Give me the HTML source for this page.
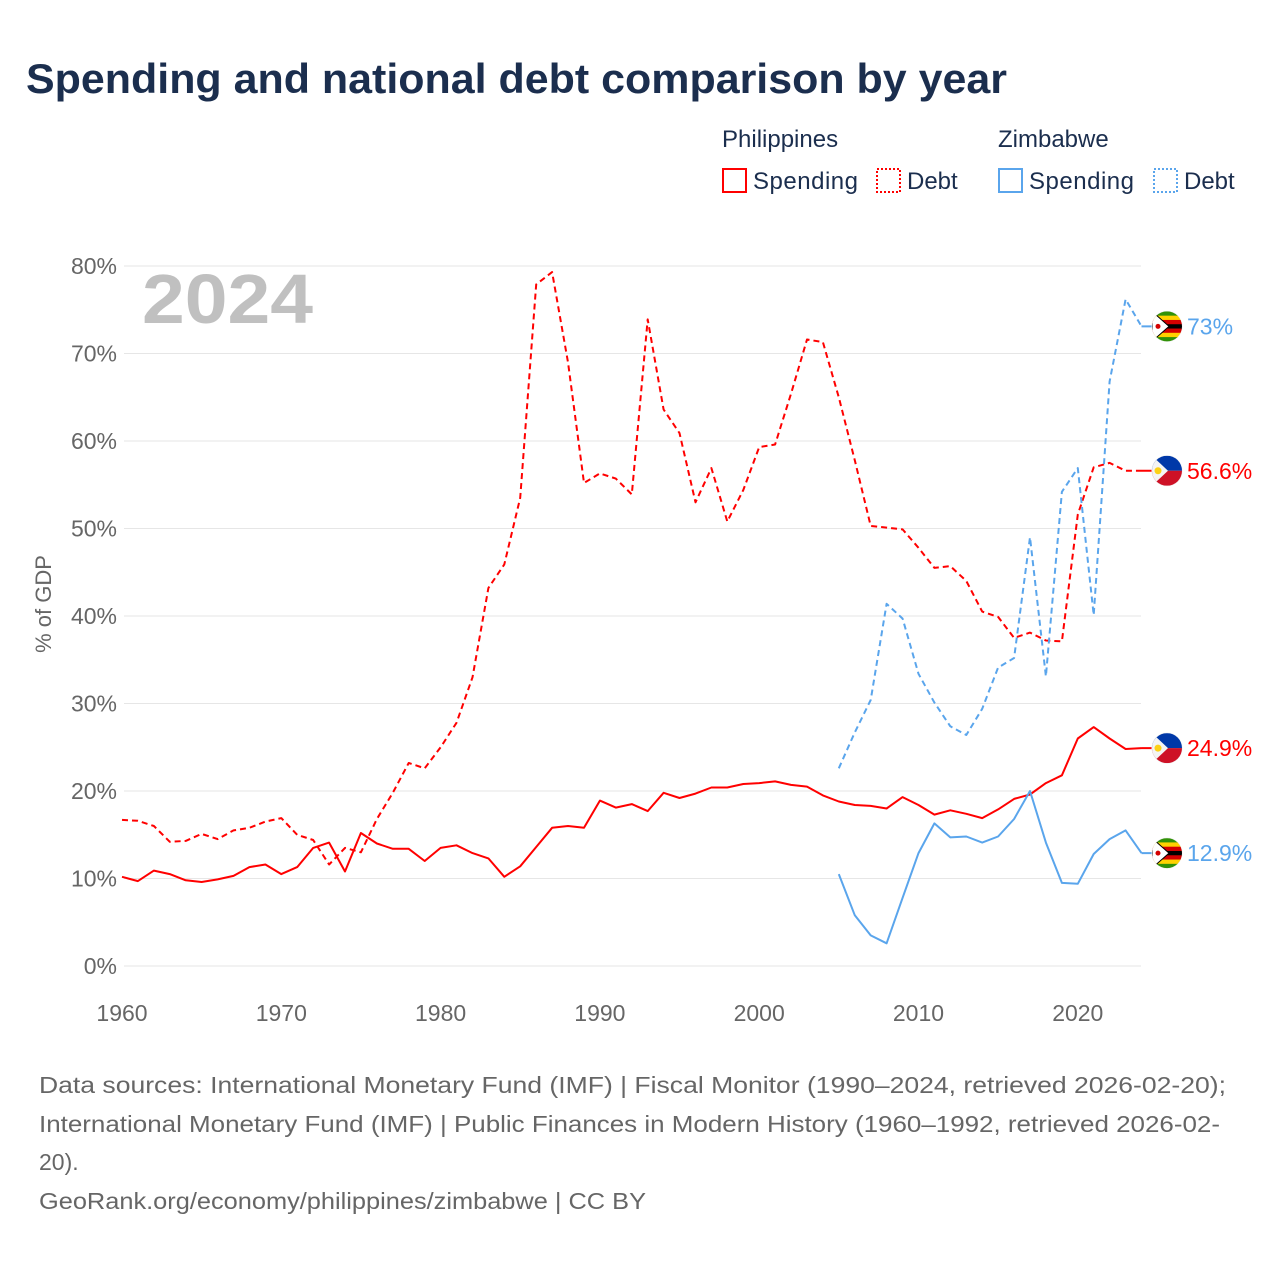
<!DOCTYPE html>
<html><head><meta charset="utf-8"><style>
body{margin:0;background:#fff;font-family:"Liberation Sans",sans-serif}
svg text{font-family:"Liberation Sans",sans-serif}
</style></head><body>
<svg width="1280" height="1280" viewBox="0 0 1280 1280">
<text x="26" y="93" font-size="42" font-weight="bold" fill="#1b2e4e" textLength="981" lengthAdjust="spacingAndGlyphs">Spending and national debt comparison by year</text>
<g font-size="24" fill="#1b2e4e">
<text x="722" y="147">Philippines</text>
<text x="998" y="147">Zimbabwe</text>
<rect x="723" y="169" width="23" height="23" fill="none" stroke="#f00" stroke-width="2"/>
<text x="753" y="189" textLength="105">Spending</text>
<rect x="877" y="169" width="23" height="23" fill="none" stroke="#f00" stroke-width="2" stroke-dasharray="2 2"/>
<text x="907" y="189">Debt</text>
<rect x="999" y="169" width="23" height="23" fill="none" stroke="#5aa5ec" stroke-width="2"/>
<text x="1029" y="189" textLength="105">Spending</text>
<rect x="1154" y="169" width="23" height="23" fill="none" stroke="#5aa5ec" stroke-width="2" stroke-dasharray="2 2"/>
<text x="1184" y="189">Debt</text>
</g>
<g id="grid"></g>
<text x="142" y="323" font-size="70" font-weight="bold" fill="#c0c0c0" textLength="171" lengthAdjust="spacingAndGlyphs">2024</text>
<text transform="translate(51,604) rotate(-90)" text-anchor="middle" font-size="22" fill="#666">% of GDP</text>
<g id="series"></g>
<g id="ends"></g>
<g font-size="23" fill="#666">
<text x="39" y="1093" textLength="1187" lengthAdjust="spacingAndGlyphs">Data sources: International Monetary Fund (IMF) | Fiscal Monitor (1990–2024, retrieved 2026-02-20);</text>
<text x="39" y="1132" textLength="1181" lengthAdjust="spacingAndGlyphs">International Monetary Fund (IMF) | Public Finances in Modern History (1960–1992, retrieved 2026-02-</text>
<text x="39" y="1170">20).</text>
<text x="39" y="1209" textLength="607" lengthAdjust="spacingAndGlyphs">GeoRank.org/economy/philippines/zimbabwe | CC BY</text>
</g>
</svg>
<script>
const yTicks=[0,10,20,30,40,50,60,70,80];
const xTicks=[1960,1970,1980,1990,2000,2010,2020];
const phYears=[];for(let y=1960;y<=2024;y++)phYears.push(y);
const zwYears=[];for(let y=2005;y<=2024;y++)zwYears.push(y);
const phSpending=[10.2,9.7,10.9,10.5,9.8,9.6,9.9,10.3,11.3,11.6,10.5,11.3,13.5,14.1,10.8,15.2,14.0,13.4,13.4,12.0,13.5,13.8,12.9,12.3,10.2,11.4,13.6,15.8,16.0,15.8,18.9,18.1,18.5,17.7,19.8,19.2,19.7,20.4,20.4,20.8,20.9,21.1,20.7,20.5,19.5,18.8,18.4,18.3,18.0,19.3,18.4,17.3,17.8,17.4,16.9,17.9,19.1,19.6,20.9,21.8,26.0,27.3,26.0,24.8,24.9];
const phDebt=[16.7,16.6,16.0,14.2,14.3,15.1,14.5,15.5,15.8,16.5,16.9,15.0,14.4,11.6,13.5,13.0,16.8,19.8,23.2,22.6,25.0,27.8,33.0,43.2,45.9,53.5,77.9,79.3,69.0,55.2,56.3,55.7,53.9,73.9,63.6,60.9,53.0,56.9,50.8,54.4,59.3,59.6,65.4,71.6,71.3,65.0,57.8,50.3,50.1,49.9,47.8,45.5,45.7,44.0,40.5,39.9,37.5,38.1,37.2,37.1,51.6,57.0,57.5,56.6,56.6];
const zwSpending=[10.5,5.8,3.5,2.6,7.8,12.9,16.3,14.7,14.8,14.1,14.8,16.8,20.0,14.1,9.5,9.4,12.8,14.5,15.5,12.9];
const zwDebt=[22.6,26.7,30.4,41.4,39.7,33.4,30.1,27.4,26.4,29.4,34.1,35.2,49.0,33.1,54.2,56.9,40.1,66.8,76.2,73.1];
const endLabels=["56.6%","24.9%","73%","12.9%"];

const NS="http://www.w3.org/2000/svg";
const X=y=>122+(y-1960)*(1141.5-122)/64;
const Y=v=>966-v*8.75;
function mk(tag,attrs,parent){const e=document.createElementNS(NS,tag);for(const k in attrs)e.setAttribute(k,attrs[k]);parent.appendChild(e);return e;}
const grid=document.getElementById('grid');
yTicks.forEach(t=>{
  const l=mk('line',{x1:124,x2:1141,y1:Y(t),y2:Y(t),stroke:'#e6e6e6','stroke-width':1},grid);
  
  
  const tx=mk('text',{x:117,y:Y(t)+8,'text-anchor':'end','font-size':23,fill:'#666'},grid);
  tx.textContent=t+'%';
  
  
});
xTicks.forEach(t=>{
  const tx=mk('text',{x:X(t),y:1021,'text-anchor':'middle','font-size':23,fill:'#666'},grid);
  tx.textContent=t;
  
  
});
const S=document.getElementById('series');
function line(years,vals,color,dash,name){
  const d=vals.map((v,i)=>(i?'L':'M')+X(years[i]).toFixed(1)+' '+Y(v).toFixed(1)).join(' ');
  const p=mk('path',{d:d,fill:'none',stroke:color,'stroke-width':2,'stroke-linejoin':'round'},S);
  if(dash)p.setAttribute('stroke-dasharray',dash);
  
  
}
const RED='#ff0000',BLUE='#5aa5ec';
line(phYears,phDebt,RED,'6 4','ph-debt-line');
line(zwYears,zwDebt,BLUE,'6 4','zw-debt-line');
line(phYears,phSpending,RED,null,'ph-spending-line');
line(zwYears,zwSpending,BLUE,null,'zw-spending-line');
const E=document.getElementById('ends');
let cid=0;
function clipG(cx,cy,g){
  const id='fc'+(cid++);
  const cp=mk('clipPath',{id:id},g);
  mk('circle',{cx:cx,cy:cy,r:15},cp);
  mk('circle',{cx:cx,cy:cy,r:15.5,fill:'#eee'},g);
  return mk('g',{'clip-path':'url(#'+id+')'},g);
}
function ph(cx,cy,g){
  const gg=clipG(cx,cy,g);
  mk('rect',{x:cx-15,y:cy-15,width:30,height:15,fill:'#0038a8'},gg);
  mk('rect',{x:cx-15,y:cy,width:30,height:15,fill:'#ce1126'},gg);
  mk('path',{d:`M${cx-15} ${cy-15} L${cx+1} ${cy} L${cx-15} ${cy+15} Z`,fill:'#f4f4f4'},gg);
  mk('circle',{cx:cx-9,cy:cy,r:3.5,fill:'#fcd116'},gg);
}
function zw(cx,cy,g){
  const cols=['#319208','#ffd200','#d40000','#000','#d40000','#ffd200','#319208'];
  const gg=clipG(cx,cy,g);
  cols.forEach((c,i)=>mk('rect',{x:cx-15,y:cy-15+i*30/7,width:30,height:30/7+0.5,fill:c},gg));
  mk('path',{d:`M${cx-15} ${cy-15} L${cx+2} ${cy} L${cx-15} ${cy+15} Z`,fill:'#fff',stroke:'#000','stroke-width':1},gg);
  mk('circle',{cx:cx-9,cy:cy,r:2.5,fill:'#d40000'},gg);
}
const ends=[[phDebt[phDebt.length-1],RED,ph,'ph-debt'],[phSpending[phSpending.length-1],RED,ph,'ph-spending'],[zwDebt[zwDebt.length-1],BLUE,zw,'zw-debt'],[zwSpending[zwSpending.length-1],BLUE,zw,'zw-spending']];
ends.forEach((e,i)=>{
  const cy=Y(e[0]);
  const c=mk('line',{x1:1141.5,x2:1152,y1:cy,y2:cy,stroke:e[1],'stroke-width':2},E);
  
  
  const g=mk('g',{},E);
  
  
  e[2](1167,cy,g);
  const t=mk('text',{x:1187,y:cy+8,'font-size':23,fill:e[1]},E);
  t.textContent=endLabels[i];
  
  
});
</script>
</body></html>
